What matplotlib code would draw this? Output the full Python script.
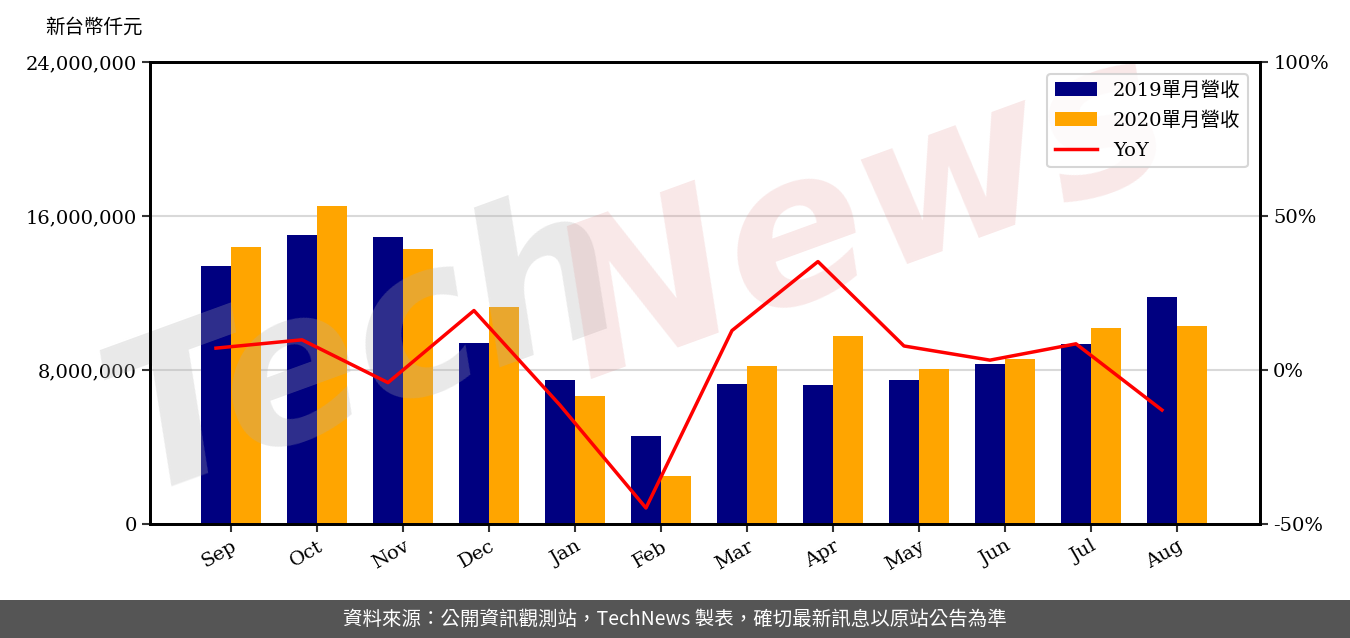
import numpy as np
import matplotlib.pyplot as plt
from matplotlib.patches import Rectangle
from matplotlib.ticker import FuncFormatter

# data (NT$ thousand)
months = ["Sep", "Oct", "Nov", "Dec", "Jan", "Feb", "Mar", "Apr", "May", "Jun", "Jul", "Aug"]
rev_2019 = [13400000, 15010000, 14910000, 9420000, 7480000, 4570000,
            7270000, 7220000, 7480000, 8310000, 9350000, 11790000]
rev_2020 = [14390000, 16520000, 14290000, 11290000, 6650000, 2490000,
            8210000, 9770000, 8050000, 8570000, 10180000, 10290000]
yoy = [0.071, 0.098, -0.041, 0.193, -0.114, -0.448,
       0.128, 0.352, 0.078, 0.032, 0.085, -0.130]

serif = ["DejaVu Serif", "Noto Sans CJK TC"]
cjk = ["Noto Sans CJK TC", "DejaVu Sans"]

fig = plt.figure(figsize=(13.5, 6.38), dpi=100)
ax = fig.add_axes([150 / 1350, 1 - 524 / 638, 1110 / 1350, 462 / 638])
ax2 = ax.twinx()
ax.set_zorder(1)
ax2.set_zorder(3)

x = np.arange(len(months))
w = 0.35
ax.bar(x, rev_2019, width=w, color="#000080", label="2019單月營收", zorder=2)
ax.bar(x + w, rev_2020, width=w, color="#FFA500", label="2020單月營收", zorder=2)
ax2.plot(x, yoy, color="red", linewidth=2.5, label="YoY")

ax.set_ylim(0, 24000000)
ax.set_yticks([0, 8000000, 16000000, 24000000])
ax.yaxis.set_major_formatter(FuncFormatter(lambda v, p: f"{int(v):,}"))
ax.set_xticks(x + w / 2)
ax.set_xticklabels(months, rotation=30, ha="right", rotation_mode="anchor")
ax.set_xlim(-0.767, 12.14)

ax2.set_ylim(-0.5, 1.0)
ax2.set_yticks([-0.5, 0, 0.5, 1.0])
ax2.yaxis.set_major_formatter(FuncFormatter(lambda v, p: f"{v * 100:.0f}%"))

ax.grid(axis="y", color="#d9d9d9", linewidth=1.5, zorder=0)
ax.set_axisbelow(True)

for a in (ax, ax2):
    for s in a.spines.values():
        s.set_linewidth(2)
        s.set_color("black")
    a.tick_params(length=6, width=1.5, color="#333333", labelsize=14)
    for lab in a.get_xticklabels() + a.get_yticklabels():
        lab.set_family(serif)

# legend
h1, l1 = ax.get_legend_handles_labels()
h2, l2 = ax2.get_legend_handles_labels()
leg = ax2.legend(h1 + h2, l1 + l2, loc="upper right", prop={"family": serif, "size": 14},
                 frameon=True, borderaxespad=0.6, handlelength=2.2, labelspacing=0.6)
leg.get_frame().set_edgecolor("#cccccc")
leg.get_frame().set_linewidth(1.5)

fig.text(45 / 1350, 1 - 27 / 638, "新台幣仟元", family=cjk, fontsize=14, va="center")

# watermark
fig.text(0.27, 0.45, "Tech", fontsize=150, color="#b0b0b0", alpha=0.27, rotation=20,
         ha="center", va="center", family="DejaVu Sans", weight="bold", style="italic", zorder=2)
fig.text(0.64, 0.66, "News", fontsize=150, color="#e08080", alpha=0.18, rotation=20,
         ha="center", va="center", family="DejaVu Sans", weight="bold", style="italic", zorder=2)

# footer
fig.patches.append(Rectangle((0, 0), 1, 38 / 638, transform=fig.transFigure,
                             facecolor="#555555", edgecolor="none"))
fig.text(0.5, 19 / 638, "資料來源：公開資訊觀測站，TechNews 製表，確切最新訊息以原站公告為準",
         color="white", fontsize=14, ha="center", va="center", family=cjk)

fig.savefig("out.png", dpi=100)
